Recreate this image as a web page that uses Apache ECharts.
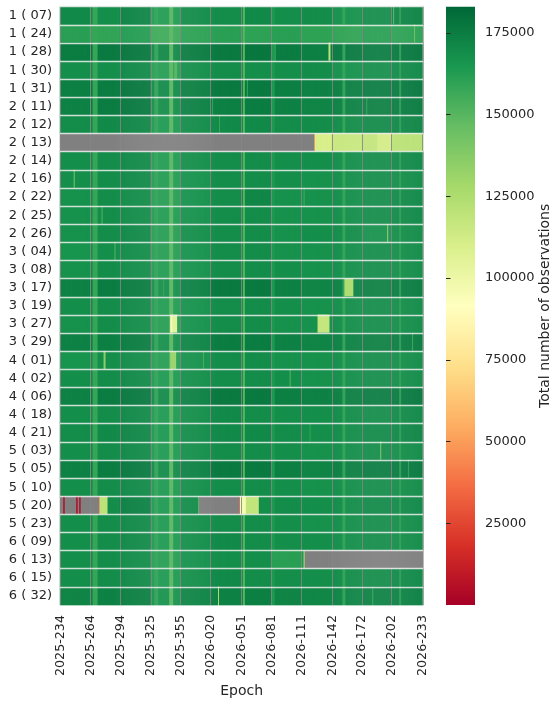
<!DOCTYPE html>
<html><head><meta charset="utf-8">
<script src="https://cdn.jsdelivr.net/npm/echarts@6/dist/echarts.min.js"></script>
<style>html,body{margin:0;padding:0;background:#fff}#c{width:560px;height:703px}</style>
</head><body><div id="c"></div>
<script>
// ---- data (values in thousands of observations) ----
const satellites = ['1 ( 07)','1 ( 24)','1 ( 28)','1 ( 30)','1 ( 31)','2 ( 11)','2 ( 12)','2 ( 13)','2 ( 14)','2 ( 16)','2 ( 22)','2 ( 25)','2 ( 26)','3 ( 04)','3 ( 08)','3 ( 17)','3 ( 19)','3 ( 27)','3 ( 29)','4 ( 01)','4 ( 02)','4 ( 06)','4 ( 18)','4 ( 21)','5 ( 03)','5 ( 05)','5 ( 10)','5 ( 20)','5 ( 23)','6 ( 09)','6 ( 13)','6 ( 15)','6 ( 32)'];
const tickLabels = ['2025-234','2025-264','2025-294','2025-325','2025-355','2026-020','2026-051','2026-081','2026-111','2026-142','2026-172','2026-202','2026-233'];
const colorbarTicks = [25000,50000,75000,100000,125000,150000,175000];
// monthly block starts (epoch index)
const blockStarts = [0,30,60,91,121,151,182,212,242,273,303,333];
// level of each satellite in each block (thousands)
const blockLevels = [
 [170,168,172,163,169,169,170,168,169,167,169,172], // 1(07)
 [161,159,162,156,160,161,160,161,160,159,161,160], // 1(24)
 [175,176,177,171,175,176,177,175,174,176,175,177], // 1(28)
 [168,168,170,162,168,169,168,168,169,167,168,170], // 1(30)
 [174,175,177,170,174,176,176,174,173,174,175,176], // 1(31)
 [173,175,176,169,173,174,175,173,172,173,174,175], // 2(11)
 [169,170,171,164,169,170,170,169,169,169,170,171], // 2(12)
 [168,168,168,168,168,168,168,168,168,168,168,168], // 2(13)
 [168,169,170,163,168,169,169,168,168,168,169,170], // 2(14)
 [168,169,170,163,167,169,169,168,167,168,169,169], // 2(16)
 [167,169,169,162,167,169,171,167,167,168,169,170], // 2(22)
 [167,169,169,163,167,169,169,167,167,168,169,170], // 2(25)
 [167,169,170,162,168,169,169,167,168,169,167,169], // 2(26)
 [166,168,169,162,167,169,169,167,167,168,169,169], // 3(04)
 [167,169,169,163,167,169,169,168,167,168,169,169], // 3(08)
 [173,175,175,168,173,176,176,173,172,173,174,175], // 3(17)
 [168,169,170,163,167,169,169,168,167,168,169,169], // 3(19)
 [167,169,169,162,167,169,169,167,167,168,169,169], // 3(27)
 [173,174,175,168,172,175,175,173,172,173,174,175], // 3(29)
 [166,168,169,162,167,169,169,167,167,168,169,169], // 4(01)
 [168,169,170,164,168,169,169,168,167,168,169,169], // 4(02)
 [173,175,176,170,173,176,176,174,173,174,175,176], // 4(06)
 [168,169,170,164,168,170,169,168,168,169,169,170], // 4(18)
 [169,170,171,165,169,170,170,169,168,169,170,171], // 4(21)
 [168,169,170,164,168,169,169,168,167,168,169,169], // 5(03)
 [173,175,176,170,173,176,176,174,172,174,175,176], // 5(05)
 [168,169,170,164,168,169,169,168,167,168,169,169], // 5(10)
 [168,169,173,164,169,169,168,169,168,169,170,170], // 5(20)
 [168,169,170,164,168,169,169,168,167,168,169,169], // 5(23)
 [168,169,170,164,168,170,169,168,168,168,169,169], // 6(09)
 [168,169,169,162,167,168,168,161,163,166,166,166], // 6(13)
 [168,169,170,164,168,170,169,168,168,169,169,170], // 6(15)
 [172,173,174,167,172,173,174,172,171,172,173,173]  // 6(32)
];
// epochs where every satellite shows a lighter value [from, to, thousands]
const sharedDays = [[33,37,158],[95,98,160],[110,113,150],[184,185,150],[213,215,164],[284,286,160],[341,342,162]];
// individual readings [satellite, from, to, thousands]; null = no data
const spots = [
 ['1 ( 07)',335,335,150],
 ['1 ( 24)',356,356,145],
 ['1 ( 28)',216,216,158],['1 ( 28)',270,271,120],
 ['1 ( 30)',115,117,152],
 ['1 ( 31)',188,188,158],
 ['2 ( 11)',153,153,160],['2 ( 11)',308,308,160],
 ['2 ( 12)',160,160,158],
 ['2 ( 13)',0,254,null],['2 ( 13)',255,255,35],['2 ( 13)',256,272,110],['2 ( 13)',273,302,116],['2 ( 13)',303,318,118],['2 ( 13)',319,332,112],['2 ( 13)',333,364,121],
 ['2 ( 16)',14,14,140],
 ['2 ( 22)',245,245,155],
 ['2 ( 25)',42,42,150],
 ['2 ( 26)',329,329,135],
 ['3 ( 04)',0,0,140],['3 ( 04)',55,55,150],
 ['3 ( 17)',104,104,160],['3 ( 17)',286,294,126],
 ['3 ( 27)',111,112,95],['3 ( 27)',113,117,106],['3 ( 27)',259,270,117],
 ['3 ( 29)',354,354,158],
 ['4 ( 01)',44,45,135],['4 ( 01)',111,116,133],['4 ( 01)',144,144,155],
 ['4 ( 02)',231,231,150],
 ['4 ( 21)',251,251,158],
 ['5 ( 03)',322,322,140],
 ['5 ( 05)',350,350,160],
 ['5 ( 20)',0,2,null],['5 ( 20)',3,4,5],['5 ( 20)',5,15,null],['5 ( 20)',16,17,5],['5 ( 20)',18,18,null],['5 ( 20)',19,20,5],['5 ( 20)',21,38,null],['5 ( 20)',39,39,40],['5 ( 20)',40,47,120],
 ['5 ( 20)',139,139,150],['5 ( 20)',140,179,null],['5 ( 20)',180,180,35],['5 ( 20)',181,186,96],['5 ( 20)',187,199,118],
 ['6 ( 13)',245,245,122],['6 ( 13)',246,364,null],
 ['6 ( 32)',159,159,125],['6 ( 32)',314,314,158]
];
const rdylgn = ['#a50026','#d73027','#f46d43','#fdae61','#fee08b','#ffffbf','#d9ef8b','#a6d96a','#66bd63','#1a9850','#006837'];

// ---- epochs (day-of-year labels) ----
const epochs = [];
for (let d = 234; d <= 365; d++) epochs.push('2025-' + String(d).padStart(3,'0'));
for (let d = 1; d <= 233; d++) epochs.push('2026-' + String(d).padStart(3,'0'));
const tickSet = new Set(tickLabels);
const tickIdx = tickLabels.map(t => epochs.indexOf(t));
const N = epochs.length;

const heat = [], missing = [];
satellites.forEach((s, r) => {
  const row = new Array(N);
  blockStarts.forEach((st, b) => {
    const end = b + 1 < blockStarts.length ? blockStarts[b+1] : N;
    for (let i = st; i < end; i++) row[i] = blockLevels[r][b];
  });
  sharedDays.forEach(([a, z, v]) => { for (let i = a; i <= z; i++) row[i] = Math.min(row[i], v); });
  spots.filter(p => p[0] === s).forEach(([, a, z, v]) => { for (let i = a; i <= z; i++) row[i] = v; });
  row.forEach((v, i) => { if (v === null) missing.push([i, r, 0]); else heat.push([i, r, v * 1000]); });
});

const chart = echarts.init(document.getElementById('c'), null, {renderer: 'canvas'});
const txt = '#262626';
const font = 'DejaVu Sans';
chart.setOption({
  animation: false,
  textStyle: {fontFamily: font},
  grid: [
    {left: 60, top: 6.7, width: 363.3, height: 598.3},
    {left: 446, top: 6.7, width: 29, height: 598.3}
  ],
  xAxis: [
    {type: 'category', data: epochs, gridIndex: 0,
     axisLine: {show: false}, axisTick: {show: false},
     axisLabel: {interval: (i, v) => tickSet.has(v), rotate: 90, fontSize: 12.7, color: txt, margin: 10, fontFamily: font},
     splitLine: {show: false},
     name: 'Epoch', nameLocation: 'middle', nameGap: 76, nameTextStyle: {fontSize: 14, color: txt, fontFamily: font}},
    {type: 'value', gridIndex: 1, show: false, min: 0, max: 1}
  ],
  yAxis: [
    {type: 'category', data: satellites, inverse: true, gridIndex: 0, z: 6,
     axisLine: {show: false}, axisTick: {show: false},
     axisLabel: {fontSize: 13, color: txt, margin: 8, fontFamily: font},
     splitLine: {show: true, showMaxLine: false, lineStyle: {color: 'rgba(240,240,240,0.85)', width: 1.3}}},
    {type: 'value', gridIndex: 1, position: 'right', min: 0, max: 183000,
     axisLine: {show: false},
     axisTick: {show: true, length: 4.5, customValues: colorbarTicks, lineStyle: {color: txt, width: 1}},
     axisLabel: {customValues: colorbarTicks, margin: 10, fontSize: 13, color: txt, fontFamily: font, formatter: v => String(v)},
     splitLine: {show: false},
     name: 'Total number of observations', nameLocation: 'middle', nameGap: 62, nameRotate: 90,
     nameTextStyle: {fontSize: 14, color: txt, fontFamily: font}}
  ],
  visualMap: {type: 'continuous', show: false, min: 0, max: 183000, seriesIndex: 0, inRange: {color: rdylgn}},
  graphic: [{type: 'rect', shape: {x: 446, y: 6.7, width: 29, height: 598.3},
    style: {fill: new echarts.graphic.LinearGradient(0, 0, 0, 1,
      rdylgn.slice().reverse().map((c, k) => ({offset: k / 10, color: c})))}}],
  series: [
    {type: 'heatmap', data: heat, xAxisIndex: 0, yAxisIndex: 0, progressive: 0, emphasis: {disabled: true}},
    {type: 'heatmap', data: missing, xAxisIndex: 0, yAxisIndex: 0, progressive: 0, itemStyle: {color: '#808080'}, emphasis: {disabled: true}},
    {type: 'custom', xAxisIndex: 0, yAxisIndex: 0, z: 3, silent: true,
     data: tickIdx.map(i => [i, 0]),
     renderItem: (params, api) => {
       const x = Math.round(api.coord([api.value(0), 0])[0] - 0.5) + 0.5;
       const cs = params.coordSys;
       return {type: 'line', shape: {x1: x, y1: cs.y, x2: x, y2: cs.y + cs.height},
               style: {stroke: '#868686', lineWidth: 1, fill: null, opacity: 0.85}};
     }}
  ]
});
</script></body></html>
